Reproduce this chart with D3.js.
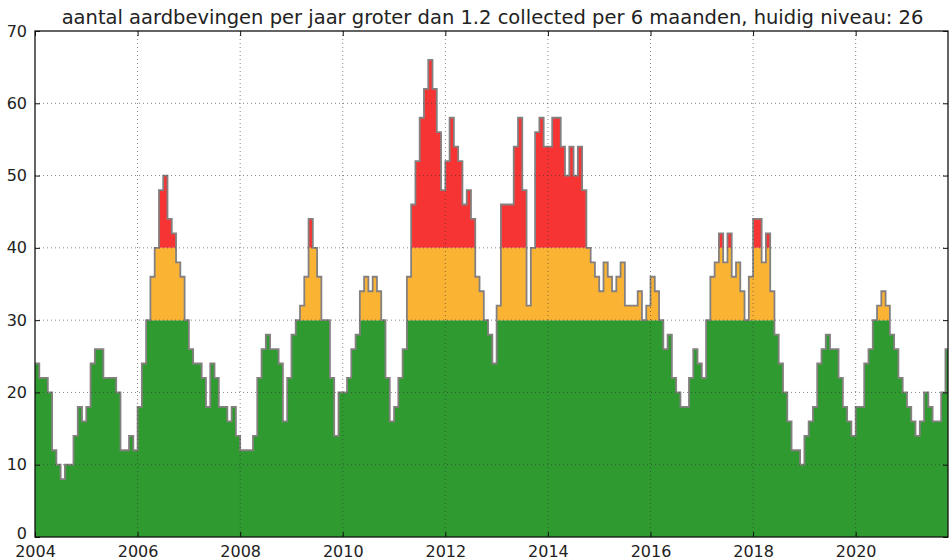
<!DOCTYPE html>
<html>
<head>
<meta charset="utf-8">
<script src="https://cdn.jsdelivr.net/npm/d3@7"></script>
<style>
  body { margin: 0; background: white; }
  text { font-family: 'DejaVu Sans', sans-serif; fill: #222; }
</style>
</head>
<body>
<script>
// monthly values (jaarbasis, per 6 maanden), one array per year
let v2004 = [24, 22, 22, 20, 12, 10, 8, 10, 10, 14, 18, 16];
let v2005 = [18, 24, 26, 26, 22, 22, 22, 20, 12, 12, 14, 12];
let v2006 = [18, 24, 30, 36, 40, 48, 50, 44, 42, 38, 36, 30];
let v2007 = [26, 24, 24, 22, 18, 24, 22, 18, 18, 16, 18, 14];
let v2008 = [12, 12, 12, 14, 22, 26, 28, 26, 26, 24, 16, 22];
let v2009 = [28, 30, 32, 36, 44, 40, 36, 30, 30, 22, 14, 20];
let v2010 = [20, 22, 26, 28, 34, 36, 34, 36, 34, 30, 22, 16];
let v2011 = [18, 22, 26, 36, 46, 52, 58, 62, 66, 62, 56, 48];
let v2012 = [52, 58, 54, 52, 46, 48, 44, 36, 34, 30, 28, 24];
let v2013 = [32, 46, 46, 46, 54, 58, 48, 32, 40, 56, 58, 54];
let v2014 = [54, 58, 58, 54, 50, 54, 50, 54, 48, 40, 38, 36];
let v2015 = [34, 38, 36, 34, 36, 38, 32, 32, 32, 34, 30, 32];
let v2016 = [36, 34, 30, 26, 28, 22, 20, 18, 18, 22, 26, 24];
let v2017 = [22, 30, 36, 38, 42, 38, 42, 36, 38, 34, 30, 36];
let v2018 = [44, 44, 38, 42, 34, 28, 24, 20, 16, 12, 12, 10];
let v2019 = [14, 16, 18, 24, 26, 28, 26, 26, 22, 18, 16, 14];
let v2020 = [18, 18, 24, 26, 30, 32, 34, 32, 28, 26, 22, 20];
let v2021 = [18, 16, 14, 16, 20, 18, 16, 16, 20, 26];

let yearTicks = [2004, 2006, 2008, 2010, 2012, 2014, 2016, 2018, 2020];
let valueTicks = [0, 10, 20, 30, 40, 50, 60, 70];
let levels = [30, 40];
let startYear = 2004;
let endYear = 2021.8;
let title = 'aantal aardbevingen per jaar groter dan 1.2 collected per 6 maanden, huidig niveau: 26';

let width = 949, height = 560;
let pLeft = 35, pRight = 948, pTop = 31, pBottom = 537;
let svg, xScale, yScale, series, genScale, genGrid, genArea, genLine, genAxis, genTitle;

let allValues = [].concat(v2004, v2005, v2006, v2007, v2008, v2009, v2010, v2011, v2012,
                          v2013, v2014, v2015, v2016, v2017, v2018, v2019, v2020, v2021);
series = allValues.map((v, i) => ({ t: startYear + i / 12, v: v }));
// extra point so the last step keeps its width
series.push({ t: startYear + allValues.length / 12, v: allValues[allValues.length - 1] });

svg = d3.select('body')
        .append('svg')
        .attr('width', width)
        .attr('height', height)
        .style('background-color', 'white')

svg.append('clipPath')
    .attr('id', 'plot-clip')
    .append('rect')
    .attr('x', pLeft)
    .attr('y', pTop)
    .attr('width', pRight - pLeft)
    .attr('height', pBottom - pTop)

genScale = () => {
    xScale = d3.scaleLinear()
                .domain([startYear, endYear])
                .range([pLeft, pRight])
    yScale = d3.scaleLinear()
                .domain([0, 70])
                .range([pBottom, pTop])
}

genArea = () => {
    let g = svg.append('g').attr('clip-path', 'url(#plot-clip)');
    let bands = [
        { lo: 0, hi: levels[0], color: '#2f9a30' },
        { lo: levels[0], hi: levels[1], color: '#fbb334' },
        { lo: levels[1], hi: 1000, color: '#f63434' }
    ];
    bands.forEach(b => {
        let area = d3.area()
                    .curve(d3.curveStepAfter)
                    .x(d => xScale(d.t))
                    .y0(d => yScale(b.lo))
                    .y1(d => yScale(Math.max(b.lo, Math.min(b.hi, d.v))))
        g.append('path')
            .datum(series)
            .attr('d', area)
            .attr('fill', b.color)
            .attr('stroke', 'none')
    })
}

genLine = () => {
    let line = d3.line()
                .curve(d3.curveStepAfter)
                .x(d => xScale(d.t))
                .y(d => yScale(d.v))
    svg.append('g')
        .attr('clip-path', 'url(#plot-clip)')
        .append('path')
        .datum(series)
        .attr('d', line)
        .attr('fill', 'none')
        .attr('stroke', '#858080')
        .attr('stroke-width', 1.8)
}

genGrid = () => {
    let g = svg.append('g').attr('class', 'grid');
    g.selectAll('line.gx')
        .data(yearTicks.slice(1))
        .enter()
        .append('line')
        .attr('class', 'gx')
        .attr('x1', d => xScale(d))
        .attr('x2', d => xScale(d))
        .attr('y1', pTop)
        .attr('y2', pBottom)
    g.selectAll('line.gy')
        .data(valueTicks.slice(1, -1))
        .enter()
        .append('line')
        .attr('class', 'gy')
        .attr('x1', pLeft)
        .attr('x2', pRight)
        .attr('y1', d => yScale(d))
        .attr('y2', d => yScale(d))
    g.selectAll('line')
        .attr('stroke', '#333')
        .attr('stroke-opacity', 0.6)
        .attr('stroke-width', 1)
        .attr('stroke-dasharray', '1,3')
}

genAxis = () => {
    let xAxis = d3.axisBottom(xScale).tickValues(yearTicks).tickFormat(d3.format('d')).tickSizeInner(-5).tickSizeOuter(0).tickPadding(9);
    let xTop = d3.axisTop(xScale).tickValues(yearTicks).tickFormat('').tickSizeInner(-5).tickSizeOuter(0);
    let yAxis = d3.axisLeft(yScale).tickValues(valueTicks).tickSizeInner(-5).tickSizeOuter(0).tickPadding(8);
    let yRight = d3.axisRight(yScale).tickValues(valueTicks).tickFormat('').tickSizeInner(-5).tickSizeOuter(0);

    let gx = svg.append('g').attr('id', 'x-axis').attr('transform', 'translate(0,' + pBottom + ')').call(xAxis);
    let gt = svg.append('g').attr('transform', 'translate(0,' + pTop + ')').call(xTop);
    let gy = svg.append('g').attr('id', 'y-axis').attr('transform', 'translate(' + pLeft + ',0)').call(yAxis);
    let gr = svg.append('g').attr('transform', 'translate(' + pRight + ',0)').call(yRight);

    [gx, gt, gy, gr].forEach(g => {
        g.select('.domain').remove();
        g.selectAll('line').attr('stroke', '#111');
        g.selectAll('text').style('font-size', '16px').attr('fill', '#222');
    })
    // the "0" label sits just above the first year label, as in the original
    gy.selectAll('.tick text').filter(d => d === 0).attr('dy', '0.1em');

    svg.append('rect')
        .attr('x', pLeft)
        .attr('y', pTop)
        .attr('width', pRight - pLeft)
        .attr('height', pBottom - pTop)
        .attr('fill', 'none')
        .attr('stroke', '#111')
        .attr('stroke-width', 1.3)
}

genTitle = () => {
    svg.append('text')
        .attr('x', (pLeft + pRight) / 2 + 1)
        .attr('y', 24)
        .attr('text-anchor', 'middle')
        .style('font-size', '19.5px')
        .text(title)
}

genScale();
genArea();
genLine();
genGrid();
genAxis();
genTitle();
</script>
</body>
</html>
